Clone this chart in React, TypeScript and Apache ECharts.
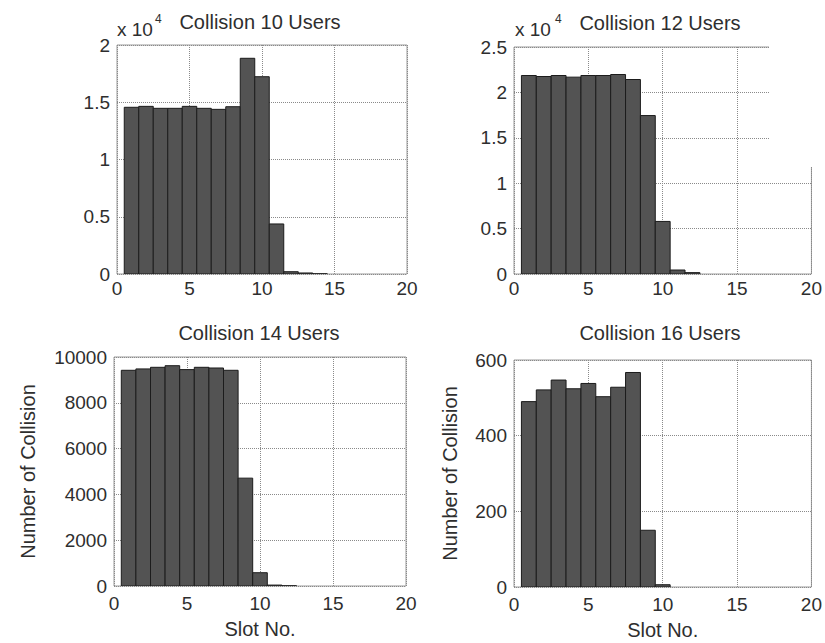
import React, { useEffect, useRef } from "react";
import * as echarts from "echarts";

// Slot numbers (histogram bin centres)
const slots10 = [1, 2, 3, 4, 5, 6, 7, 8, 9, 10, 11, 12, 13, 14];
const slots12 = [1, 2, 3, 4, 5, 6, 7, 8, 9, 10, 11, 12];
const slots14 = [1, 2, 3, 4, 5, 6, 7, 8, 9, 10, 11, 12];
const slots16 = [1, 2, 3, 4, 5, 6, 7, 8, 9, 10];

// Number of collisions per slot
const collision10 = [14560, 14640, 14470, 14470, 14640, 14470, 14380, 14610, 18840, 17230, 4370, 200, 90, 20];
const collision12 = [21860, 21750, 21860, 21680, 21860, 21860, 21970, 21420, 17450, 5790, 440, 150];
const collision14 = [9420, 9480, 9550, 9620, 9450, 9550, 9520, 9420, 4710, 580, 40, 10];
const collision16 = [490, 521, 547, 524, 538, 503, 528, 567, 150, 6];

const titles = ["Collision 10 Users", "Collision 12 Users", "Collision 14 Users", "Collision 16 Users"];
const xTicks = { min: 0, max: 20, interval: 5 };
const yAxes = [
  { min: 0, max: 20000, interval: 5000, scale: 10000 },
  { min: 0, max: 25000, interval: 5000, scale: 10000 },
  { min: 0, max: 10000, interval: 2000, scale: 1 },
  { min: 0, max: 600, interval: 200, scale: 1 },
];

const FONT = "'Liberation Sans', Arial, Helvetica, sans-serif";
const TXT = "#2e2e2e";
const FS = 19;
const FT = 20;

export default function App() {
  const ref = useRef<HTMLDivElement>(null);
  useEffect(() => {
    if (!ref.current) return;
    const chart = echarts.init(ref.current, null, { renderer: "svg" });

    const grids = [
      { left: 117, top: 45, width: 290, height: 229 },
      { left: 514, top: 47, width: 298, height: 227 },
      { left: 114, top: 357, width: 292, height: 229 },
      { left: 514, top: 360, width: 298, height: 227 },
    ];
    const datasets = [
      [slots10, collision10],
      [slots12, collision12],
      [slots14, collision14],
      [slots16, collision16],
    ];

    const renderItem = (params: any, api: any) => {
      const x = api.value(0);
      const y = api.value(1);
      const p0 = api.coord([x - 0.5, y]);
      const p1 = api.coord([x + 0.5, 0]);
      return {
        type: "rect",
        shape: { x: p0[0], y: p0[1], width: p1[0] - p0[0], height: p1[1] - p0[1] },
        style: { fill: "#535353", stroke: "#1c1c1c", lineWidth: 1 },
      };
    };

    const option: any = {
      animation: false,
      backgroundColor: "#ffffff",
      grid: grids.map((g) => ({
        ...g,
        show: true,
        borderColor: "#9a9a9a",
        borderWidth: 1,
        backgroundColor: "transparent",
        z: 0,
      })),
      xAxis: grids.map((g, i) => ({
        type: "value",
        gridIndex: i,
        ...xTicks,
        axisLine: { show: false },
        axisTick: { show: false },
        axisLabel: {
          color: TXT,
          fontFamily: FONT,
          fontSize: FS,
          margin: i < 2 ? 5 : 8,
        },
        splitLine: { show: true, lineStyle: { type: "dotted", color: "#8a8a8a", width: 1 } },
        name: i >= 2 ? "Slot No." : "",
        nameLocation: "middle",
        nameGap: 33,
        nameTextStyle: { color: TXT, fontFamily: FONT, fontSize: FT },
      })),
      yAxis: yAxes.map((a, i) => ({
        type: "value",
        gridIndex: i,
        min: a.min,
        max: a.max,
        interval: a.interval,
        axisLine: { show: false },
        axisTick: { show: false },
        axisLabel: {
          color: TXT,
          fontFamily: FONT,
          fontSize: FS,
          margin: 7,
          formatter: (v: number) => String(Math.round((v / a.scale) * 100) / 100),
        },
        splitLine: { show: true, lineStyle: { type: "dotted", color: "#8a8a8a", width: 1 } },
        name: i >= 2 ? "Number of Collision" : "",
        nameLocation: "middle",
        nameGap: i === 2 ? 76 : 54,
        nameTextStyle: { color: TXT, fontFamily: FONT, fontSize: FT },
      })),
      series: datasets.map((d, i) => ({
        type: "custom",
        xAxisIndex: i,
        yAxisIndex: i,
        renderItem,
        encode: { x: 0, y: 1 },
        clip: true,
        data: d[0].map((s, k) => [s, d[1][k]]),
      })),
      graphic: [
        ...titles.map((t, i) => ({
          type: "text",
          x: [260, 660, 259, 660][i],
          y: [22, 23, 333, 333][i],
          style: {
            text: t,
            fontFamily: FONT,
            fontSize: FT,
            fill: TXT,
            align: "center",
            verticalAlign: "middle",
          },
        })),
        ...[0, 1].flatMap((i) => [
          {
            type: "text",
            x: [117, 515][i],
            y: 29,
            style: {
              text: "x 10",
              fontFamily: FONT,
              fontSize: 19,
              fill: TXT,
              align: "left",
              verticalAlign: "middle",
            },
          },
          {
            type: "text",
            x: [155, 555][i],
            y: 19,
            style: {
              text: "4",
              fontFamily: FONT,
              fontSize: 12,
              fill: TXT,
              align: "left",
              verticalAlign: "middle",
            },
          },
        ]),
        {
          type: "rect",
          z: 100,
          shape: { x: 769, y: 38, width: 50, height: 129 },
          style: { fill: "#ffffff" },
        },
      ],
    };

    chart.setOption(option);
    return () => chart.dispose();
  }, []);

  return (
    <div
      ref={ref}
      style={{ position: "absolute", left: 0, top: 0, width: 825, height: 643, background: "#fff" }}
    />
  );
}
